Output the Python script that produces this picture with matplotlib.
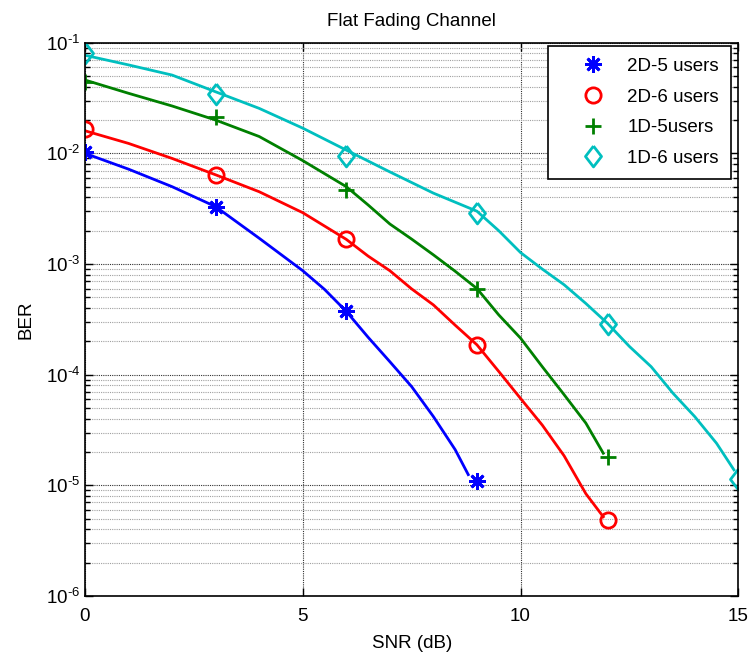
from matplotlib import pyplot as plt
from matplotlib.ticker import FuncFormatter
import numpy as np

plt.rcParams['font.family'] = ['Liberation Sans', 'DejaVu Sans']
plt.rcParams['mathtext.fontset'] = 'custom'
plt.rcParams['mathtext.rm'] = 'Liberation Sans'
plt.rcParams['mathtext.it'] = 'Liberation Sans:italic'
plt.rcParams['mathtext.default'] = 'regular'

# simulated curves
snr_2d5 = [0, 1, 2, 3, 4, 5, 5.5, 6, 6.5, 7, 7.5, 8, 8.5, 8.8]
ber_2d5 = [1.0e-2, 7.2e-3, 5.0e-3, 3.3e-3, 1.71e-3, 8.7e-4, 5.9e-4, 3.73e-4, 2.18e-4,
           1.31e-4, 7.8e-5, 4.18e-5, 2.1e-5, 1.25e-5]

snr_2d6 = [0, 1, 2, 3, 4, 5, 6, 6.5, 7, 7.5, 8, 8.5, 9, 9.5, 10, 10.5, 11, 11.5, 11.9]
ber_2d6 = [1.6e-2, 1.23e-2, 9.0e-3, 6.4e-3, 4.5e-3, 2.91e-3, 1.67e-3, 1.18e-3, 8.7e-4,
           5.96e-4, 4.27e-4, 2.8e-4, 1.86e-4, 1.07e-4, 6.1e-5, 3.5e-5, 1.85e-5, 8.4e-6,
           5.2e-6]

snr_1d5 = [0, 1, 2, 3, 4, 5, 6, 6.5, 7, 7.5, 8, 8.5, 9, 9.5, 10, 10.5, 11, 11.5, 11.9]
ber_1d5 = [4.6e-2, 3.49e-2, 2.68e-2, 2.0e-2, 1.42e-2, 8.6e-3, 5.0e-3, 3.42e-3, 2.3e-3,
           1.68e-3, 1.21e-3, 8.6e-4, 6.0e-4, 3.47e-4, 2.14e-4, 1.18e-4, 6.6e-5, 3.65e-5,
           1.95e-5]

snr_1d6 = [0, 1, 2, 3, 4, 5, 6, 7, 8, 9, 9.5, 10, 10.5, 11, 11.5, 12, 12.5, 13, 13.5,
           14, 14.5, 14.9]
ber_1d6 = [7.7e-2, 6.3e-2, 5.1e-2, 3.6e-2, 2.55e-2, 1.69e-2, 1.07e-2, 6.8e-3, 4.37e-3,
           3.0e-3, 2.0e-3, 1.27e-3, 9.0e-4, 6.5e-4, 4.4e-4, 2.9e-4, 1.8e-4, 1.18e-4,
           6.8e-5, 4.18e-5, 2.4e-5, 1.38e-5]

# marker points every 3 dB
mk_2d5_x = [0, 3, 6, 9]
mk_2d5_y = [1.03e-2, 3.3e-3, 3.77e-4, 1.1e-5]
mk_2d6_x = [0, 3, 6, 9, 12]
mk_2d6_y = [1.65e-2, 6.4e-3, 1.67e-3, 1.87e-4, 4.9e-6]
mk_1d5_x = [0, 3, 6, 9, 12]
mk_1d5_y = [4.44e-2, 2.15e-2, 4.67e-3, 6.0e-4, 1.8e-5]
mk_1d6_x = [0, 3, 6, 9, 12, 15]
mk_1d6_y = [8.0e-2, 3.42e-2, 9.5e-3, 2.88e-3, 2.88e-4, 1.13e-5]

# matlab-like markers: asterisk and a slightly tall diamond
asterisk = (8, 2, 0)
diamond = [(0, 1), (0.77, 0), (0, -1), (-0.77, 0), (0, 1)]

series = [
    (snr_2d5, ber_2d5, mk_2d5_x, mk_2d5_y, '#0000ff', asterisk, 12, '2D-5 users'),
    (snr_2d6, ber_2d6, mk_2d6_x, mk_2d6_y, '#ff0000', 'o', 11, '2D-6 users'),
    (snr_1d5, ber_1d5, mk_1d5_x, mk_1d5_y, '#008000', '+', 12, '1D-5users'),
    (snr_1d6, ber_1d6, mk_1d6_x, mk_1d6_y, '#00bfbf', diamond, 15, '1D-6 users'),
]

fig = plt.figure(figsize=(7.5, 6.59), dpi=100)
ax = fig.add_axes([0.1133, 0.0956, 0.8711, 0.8396])

for x, y, mx, my, c, m, ms, lab in series:
    ax.semilogy(x, y, color=c, lw=2)
    ax.semilogy(mx, my, ls='none', marker=m, color=c, mfc='none', mec=c,
                ms=ms, mew=2, label=lab)

ax.set_xlim(0, 15)
ax.set_ylim(1e-6, 1e-1)
ax.set_xticks([0, 5, 10, 15])
ax.set_xticklabels(['0', '5', '10', '15'])
ax.yaxis.set_major_formatter(FuncFormatter(
    lambda v, p: r'$10^{\text{-%d}}$' % round(-np.log10(v))))

ax.grid(True, which='major', color='#303030', ls=(0, (1, 1)), lw=0.8)
ax.grid(True, which='minor', axis='y', color='#a0a0a0', ls=(0, (1, 1)), lw=0.8)
ax.tick_params(which='both', direction='in', top=True, right=True, labelsize=13.5)
ax.tick_params(which='major', length=6, width=1)
ax.tick_params(which='minor', length=3.5, width=1)
ax.tick_params(axis='x', pad=9)
for s in ax.spines.values():
    s.set_linewidth(1.2)

ax.set_title('Flat Fading Channel', fontsize=13.5, pad=12)
ax.set_xlabel('SNR (dB)', fontsize=13.5, labelpad=7)
ax.set_ylabel('BER', fontsize=13.5, labelpad=8)

leg = ax.legend(loc='upper right', bbox_to_anchor=(0.9747, 0.9307),
                bbox_transform=fig.transFigure, borderaxespad=0,
                fontsize=13.5, fancybox=False, framealpha=1, edgecolor='black',
                borderpad=0.65, handlelength=3.45, handletextpad=0.1,
                labelspacing=0.72)
leg.get_frame().set_linewidth(1.2)

fig.savefig('out.png', dpi=100)
